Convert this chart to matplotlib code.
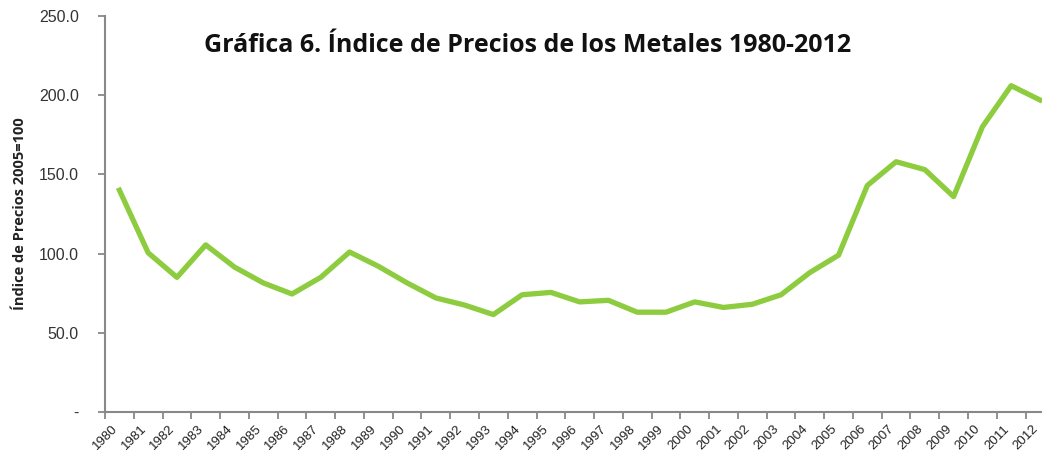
import matplotlib.pyplot as plt
import matplotlib.transforms as mtransforms

# ============================================
# Data
# ============================================

years = [str(y) for y in range(1980, 2013)]
index_values = [140, 100.5, 85, 105.5, 91.5, 81.5, 74.5, 85, 101, 92,
                81.5, 72, 67.5, 61.5, 74, 75.5, 69.5, 70.5, 63, 63,
                69.5, 66, 68, 74, 88, 99, 143, 158, 153, 136,
                180, 206, 197]
y_ticks = [0, 50, 100, 150, 200, 250]
y_tick_labels = ["-", "50.0", "100.0", "150.0", "200.0", "250.0"]

# ============================================
# Plot
# ============================================

fig = plt.figure(figsize=(10.42, 4.57), dpi=100)
ax = fig.add_axes([0.1008, 0.0985, 0.911, 0.8665])

x = list(range(len(years)))
ax.plot(x, index_values, color="#8DCC3E", linewidth=3.8)

ax.set_xlim(-0.5, len(years) - 0.5)
ax.set_ylim(0, 250)

# tick marks on category boundaries
ax.set_xticks([i - 0.5 for i in range(len(years) + 1)])
ax.set_xticklabels([])
ax.tick_params(axis="x", length=5, color="#888888", width=1.3)

# year labels at category centres, nudged left like the original
label_tf = ax.get_xaxis_transform() + mtransforms.ScaledTranslation(
    -8 / 100, -11 / 100, fig.dpi_scale_trans)
for xi, year in zip(x, years):
    ax.text(xi, 0, year, transform=label_tf, rotation=45, fontsize=9.5,
            family="Liberation Sans", color="#222222",
            ha="right", va="top", rotation_mode="anchor", clip_on=False)

ax.set_yticks(y_ticks)
ax.set_yticklabels(y_tick_labels, fontsize=11.5, family="Liberation Sans", color="#333333")
ax.tick_params(axis="y", length=5, color="#888888", width=1.3, pad=14)

for side in ["top", "right"]:
    ax.spines[side].set_visible(False)
for side in ["left", "bottom"]:
    ax.spines[side].set_color("#888888")
    ax.spines[side].set_linewidth(1.5)

ax.set_ylabel("Índice de Precios 2005=100", fontsize=10.5, fontweight="bold",
              family="Open Sans", color="#222222")
ax.yaxis.set_label_coords(-0.082, 0.5)

fig.text(0.506, 0.90, "Gráfica 6. Índice de Precios de los Metales 1980-2012",
         fontsize=18, fontweight="bold", family="Open Sans", color="#111111",
         ha="center", va="center")

plt.savefig("out.png", dpi=100)
